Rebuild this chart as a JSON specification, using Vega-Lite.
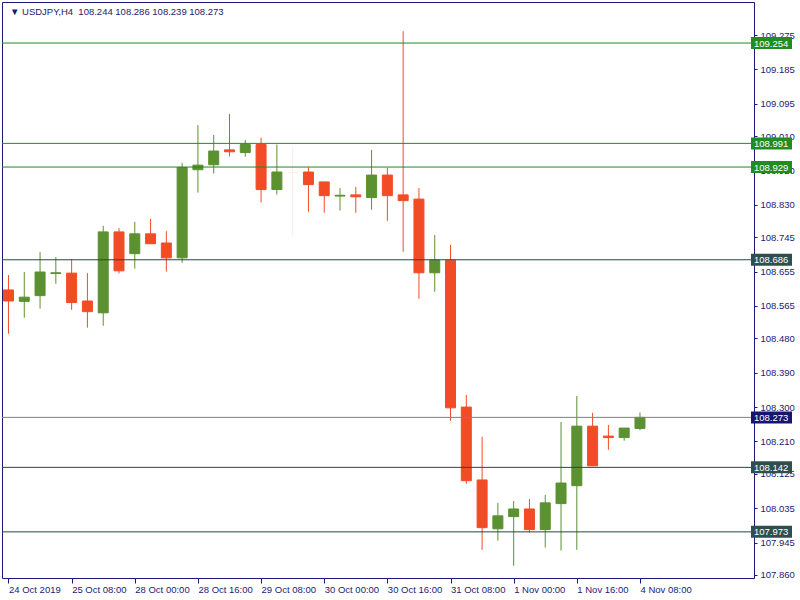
{
  "$schema": "https://vega.github.io/schema/vega-lite/v6.json",
  "width": 752,
  "height": 576,
  "autosize": {"type": "none"},
  "padding": {"left": 2, "top": 2, "right": 46, "bottom": 22},
  "background": "white",
  "config": {
    "view": {"stroke": "#1a1a78", "strokeWidth": 1},
    "axis": {
      "labelFont": "Liberation Sans",
      "labelFontSize": 9.5,
      "labelColor": "#1a1a78",
      "tickColor": "#1a1a78",
      "domain": false,
      "grid": false,
      "title": null,
      "labelOverlap": false,
      "labelFlush": false,
      "labelBound": false
    }
  },
  "datasets": {
    "header": [
      {"label": "▼ USDJPY,H4\u00a0\u00a0108.244 108.286 108.239 108.273"}
    ],
    "candles": [
      {"i": 0, "time": "24 Oct 16:00", "open": 108.607, "high": 108.646, "low": 108.492, "close": 108.578, "dir": "down"},
      {"i": 1, "time": "24 Oct 20:00", "open": 108.577, "high": 108.654, "low": 108.534, "close": 108.588, "dir": "up"},
      {"i": 2, "time": "25 Oct 00:00", "open": 108.592, "high": 108.706, "low": 108.558, "close": 108.654, "dir": "up"},
      {"i": 3, "time": "25 Oct 04:00", "open": 108.650, "high": 108.693, "low": 108.623, "close": 108.652, "dir": "up"},
      {"i": 4, "time": "25 Oct 08:00", "open": 108.651, "high": 108.688, "low": 108.555, "close": 108.574, "dir": "down"},
      {"i": 5, "time": "25 Oct 12:00", "open": 108.578, "high": 108.651, "low": 108.508, "close": 108.550, "dir": "down"},
      {"i": 6, "time": "25 Oct 16:00", "open": 108.547, "high": 108.775, "low": 108.513, "close": 108.759, "dir": "up"},
      {"i": 7, "time": "25 Oct 20:00", "open": 108.759, "high": 108.769, "low": 108.650, "close": 108.657, "dir": "down"},
      {"i": 8, "time": "28 Oct 00:00", "open": 108.702, "high": 108.785, "low": 108.663, "close": 108.754, "dir": "up"},
      {"i": 9, "time": "28 Oct 04:00", "open": 108.754, "high": 108.793, "low": 108.728, "close": 108.728, "dir": "down"},
      {"i": 10, "time": "28 Oct 08:00", "open": 108.730, "high": 108.761, "low": 108.655, "close": 108.691, "dir": "down"},
      {"i": 11, "time": "28 Oct 12:00", "open": 108.691, "high": 108.940, "low": 108.678, "close": 108.928, "dir": "up"},
      {"i": 12, "time": "28 Oct 16:00", "open": 108.922, "high": 109.039, "low": 108.862, "close": 108.934, "dir": "up"},
      {"i": 13, "time": "28 Oct 20:00", "open": 108.935, "high": 109.013, "low": 108.912, "close": 108.971, "dir": "up"},
      {"i": 14, "time": "29 Oct 00:00", "open": 108.974, "high": 109.068, "low": 108.957, "close": 108.969, "dir": "down"},
      {"i": 15, "time": "29 Oct 04:00", "open": 108.967, "high": 109.000, "low": 108.956, "close": 108.988, "dir": "up"},
      {"i": 16, "time": "29 Oct 08:00", "open": 108.988, "high": 109.006, "low": 108.836, "close": 108.870, "dir": "down"},
      {"i": 17, "time": "29 Oct 12:00", "open": 108.870, "high": 108.988, "low": 108.857, "close": 108.916, "dir": "up"},
      {"i": 18, "time": "29 Oct 16:00", "open": 108.915, "high": 108.982, "low": 108.749, "close": 108.915, "dir": "ghost"},
      {"i": 19, "time": "29 Oct 20:00", "open": 108.916, "high": 108.928, "low": 108.812, "close": 108.883, "dir": "down"},
      {"i": 20, "time": "30 Oct 00:00", "open": 108.890, "high": 108.890, "low": 108.809, "close": 108.854, "dir": "down"},
      {"i": 21, "time": "30 Oct 04:00", "open": 108.853, "high": 108.874, "low": 108.815, "close": 108.855, "dir": "up"},
      {"i": 22, "time": "30 Oct 08:00", "open": 108.856, "high": 108.877, "low": 108.809, "close": 108.851, "dir": "down"},
      {"i": 23, "time": "30 Oct 12:00", "open": 108.849, "high": 108.974, "low": 108.817, "close": 108.908, "dir": "up"},
      {"i": 24, "time": "30 Oct 16:00", "open": 108.908, "high": 108.927, "low": 108.788, "close": 108.854, "dir": "down"},
      {"i": 25, "time": "30 Oct 20:00", "open": 108.856, "high": 109.285, "low": 108.707, "close": 108.841, "dir": "down"},
      {"i": 26, "time": "31 Oct 00:00", "open": 108.845, "high": 108.874, "low": 108.584, "close": 108.652, "dir": "down"},
      {"i": 27, "time": "31 Oct 04:00", "open": 108.652, "high": 108.751, "low": 108.602, "close": 108.685, "dir": "up"},
      {"i": 28, "time": "31 Oct 08:00", "open": 108.685, "high": 108.725, "low": 108.264, "close": 108.298, "dir": "down"},
      {"i": 29, "time": "31 Oct 12:00", "open": 108.300, "high": 108.332, "low": 108.099, "close": 108.107, "dir": "down"},
      {"i": 30, "time": "31 Oct 16:00", "open": 108.109, "high": 108.222, "low": 107.926, "close": 107.984, "dir": "down"},
      {"i": 31, "time": "31 Oct 20:00", "open": 107.981, "high": 108.049, "low": 107.950, "close": 108.015, "dir": "up"},
      {"i": 32, "time": "1 Nov 00:00", "open": 108.013, "high": 108.054, "low": 107.884, "close": 108.033, "dir": "up"},
      {"i": 33, "time": "1 Nov 04:00", "open": 108.033, "high": 108.059, "low": 107.971, "close": 107.979, "dir": "down"},
      {"i": 34, "time": "1 Nov 08:00", "open": 107.979, "high": 108.070, "low": 107.932, "close": 108.049, "dir": "up"},
      {"i": 35, "time": "1 Nov 12:00", "open": 108.047, "high": 108.261, "low": 107.924, "close": 108.101, "dir": "up"},
      {"i": 36, "time": "1 Nov 16:00", "open": 108.094, "high": 108.329, "low": 107.926, "close": 108.250, "dir": "up"},
      {"i": 37, "time": "1 Nov 20:00", "open": 108.250, "high": 108.285, "low": 108.146, "close": 108.146, "dir": "down"},
      {"i": 38, "time": "4 Nov 00:00", "open": 108.224, "high": 108.253, "low": 108.188, "close": 108.220, "dir": "down"},
      {"i": 39, "time": "4 Nov 04:00", "open": 108.220, "high": 108.245, "low": 108.212, "close": 108.245, "dir": "up"},
      {"i": 40, "time": "4 Nov 08:00", "open": 108.244, "high": 108.286, "low": 108.239, "close": 108.273, "dir": "up"}
    ],
    "levels": [
      {"level": 109.254, "kind": "major"},
      {"level": 108.991, "kind": "major"},
      {"level": 108.929, "kind": "major"},
      {"level": 108.686, "kind": "minor"},
      {"level": 108.273, "kind": "bid"},
      {"level": 108.142, "kind": "minor"},
      {"level": 107.973, "kind": "minor"}
    ]
  },
  "resolve": {"scale": {"stroke": "independent", "fill": "independent"}},
  "layer": [
    {
      "data": {"name": "candles"},
      "mark": {"type": "rule", "strokeWidth": 1, "clip": true},
      "encoding": {
        "x": {
          "field": "i",
          "type": "quantitative",
          "scale": {"domain": [-0.09375, 46.90625], "nice": false, "zero": false},
          "axis": {
            "orient": "bottom",
            "values": [0, 4, 8, 12, 16, 20, 24, 28, 32, 36, 40],
            "tickCount": 20,
            "labelExpr": "['24 Oct 2019','25 Oct 08:00','28 Oct 00:00','28 Oct 16:00','29 Oct 08:00','30 Oct 00:00','30 Oct 16:00','31 Oct 08:00','1 Nov 00:00','1 Nov 16:00','4 Nov 08:00'][round(datum.value/4)]",
            "labelAlign": "left",
            "labelBaseline": "top",
            "tickSize": 5,
            "labelPadding": 1
          }
        },
        "y": {
          "field": "low",
          "type": "quantitative",
          "scale": {"domain": [107.8521, 109.3615], "nice": false, "zero": false},
          "axis": {
            "orient": "right",
            "values": [107.86, 107.945, 108.035, 108.125, 108.21, 108.3, 108.39, 108.48, 108.565, 108.655, 108.745, 108.83, 108.92, 109.01, 109.095, 109.185, 109.275],
            "tickCount": 30,
            "format": ".3f",
            "tickSize": 3,
            "labelPadding": 3
          }
        },
        "y2": {"field": "high"},
        "color": {
          "field": "dir",
          "type": "nominal",
          "scale": {"domain": ["up", "down", "ghost"], "range": ["#5b9130", "#f24c27", "#fbeee3"]},
          "legend": null
        }
      }
    },
    {
      "data": {"name": "candles"},
      "mark": {"type": "bar", "width": 10, "strokeWidth": 1, "clip": true},
      "encoding": {
        "x": {"field": "i", "type": "quantitative"},
        "y": {"field": "open", "type": "quantitative"},
        "y2": {"field": "close"},
        "color": {"field": "dir", "type": "nominal", "legend": null},
        "stroke": {
          "field": "dir",
          "type": "nominal",
          "scale": {"domain": ["up", "down", "ghost"], "range": ["#5b9130", "#f24c27", "#fbeee3"]},
          "legend": null
        }
      }
    },
    {
      "data": {"name": "levels"},
      "mark": {"type": "rule", "strokeWidth": 1, "clip": true},
      "encoding": {
        "y": {"field": "level", "type": "quantitative"},
        "stroke": {
          "field": "kind",
          "type": "nominal",
          "scale": {"domain": ["major", "minor", "bid"], "range": ["#1e8a1e", "#264646", "#7f7f7f"]},
          "legend": null
        }
      }
    },
    {
      "data": {"name": "levels"},
      "mark": {"type": "rect", "xOffset": 2, "x2Offset": 43, "yOffset": -6, "y2Offset": 6},
      "encoding": {
        "x": {"datum": 46.90625},
        "x2": {"datum": 46.90625},
        "y": {"field": "level", "type": "quantitative"},
        "y2": {"field": "level"},
        "fill": {
          "field": "kind",
          "type": "nominal",
          "scale": {"domain": ["major", "minor", "bid"], "range": ["#228b22", "#2f4f4f", "#16166b"]},
          "legend": null
        }
      }
    },
    {
      "data": {"name": "levels"},
      "mark": {"type": "text", "align": "left", "baseline": "middle", "dx": 5, "dy": 0.5, "font": "Liberation Sans", "fontSize": 9.5, "color": "white"},
      "encoding": {
        "x": {"datum": 46.90625},
        "y": {"field": "level", "type": "quantitative"},
        "text": {"field": "level", "type": "quantitative", "format": ".3f"}
      }
    },
    {
      "data": {"name": "header"},
      "mark": {"type": "text", "align": "left", "baseline": "alphabetic", "dx": 3, "dy": 13, "font": "Liberation Sans", "fontSize": 9.5, "color": "#1a1a6e"},
      "encoding": {
        "x": {"datum": -0.09375},
        "y": {"datum": 109.3615},
        "text": {"field": "label"}
      }
    }
  ]
}
